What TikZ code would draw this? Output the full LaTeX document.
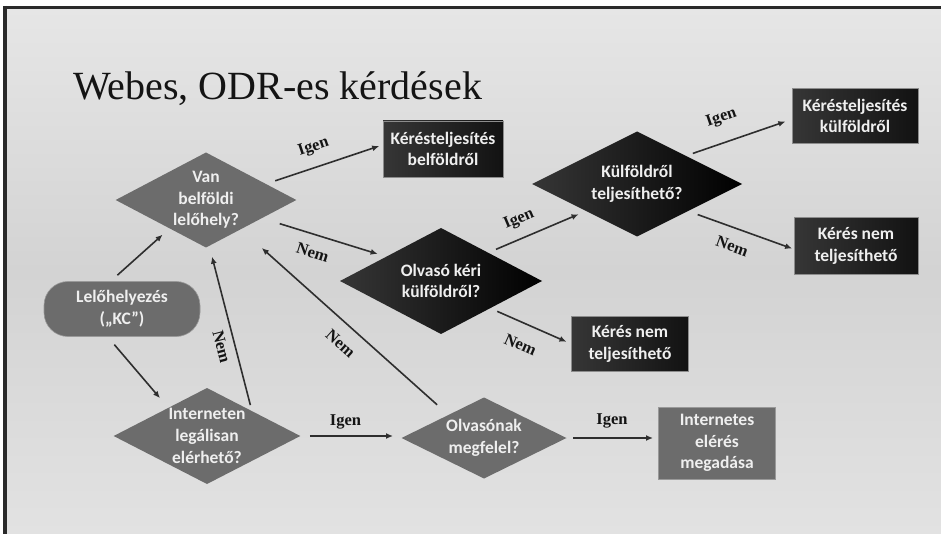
\documentclass[tikz,border=0pt]{standalone}
\usepackage{fontspec}
\setmainfont{Liberation Serif}
\newfontfamily\carlito{Carlito}
\usetikzlibrary{shapes.geometric,arrows.meta,calc}
\definecolor{midgray}{HTML}{6C6C6C}
\definecolor{darkA}{HTML}{363636}
\definecolor{darkB}{HTML}{121212}
\definecolor{arrowcol}{HTML}{2E2E2E}
\definecolor{framecol}{HTML}{2A2A2A}
\definecolor{bgtop}{HTML}{E6E6E6}
\definecolor{bgmid}{HTML}{D3D3D3}
\definecolor{bgbot}{HTML}{E2E2E2}
\definecolor{txtcol}{HTML}{EFEFEF}
\begin{document}
\begin{tikzpicture}[x=1pt,y=-1pt,
  txt/.style={text=txtcol, font=\carlito\bfseries\fontsize{17.5}{21.7}\selectfont, align=center},
  middia/.style={diamond, aspect=2, inner sep=0pt, outer sep=0pt, fill=midgray, txt},
  darkdia/.style={diamond, aspect=2, inner sep=0pt, outer sep=0pt, left color=darkA, right color=black, txt},
  darkbox/.style={rectangle, inner sep=0pt, outer sep=0pt, draw=black!45, line width=0.8pt, left color=darkA, right color=darkB, txt},
  midbox/.style={rectangle, inner sep=0pt, outer sep=0pt, draw=black!40, line width=0.8pt, fill=midgray, txt},
  startbox/.style={rectangle, rounded corners=24pt, inner sep=0pt, outer sep=0pt, draw=black!40, line width=0.6pt, fill=midgray, txt},
  arr/.style={draw=arrowcol, line width=1.6pt, -{Latex[length=7pt,width=6pt]}},
  lbl/.style={font=\bfseries\fontsize{16.5}{16.5}\selectfont, text=black!92, sloped, inner sep=0pt}
]
\useasboundingbox (0,0) rectangle (941,534);
\fill[white] (0,0) rectangle (941,534);
\shade[top color=bgtop, bottom color=bgbot, middle color=bgmid] (5,8) rectangle (941,534);
\draw[framecol, line width=3.5pt] (3,7.75) -- (941,7.75);
\draw[framecol, line width=4pt] (5,6) -- (5,534);

\node[anchor=base west, inner sep=0pt, font=\fontsize{40}{40}\selectfont, text=black!92] (title) at (73,100) {Webes, ODR-es kérdések};

\node[startbox, minimum width=156pt, minimum height=55pt] (lelo) at (122,309) {Lelőhelyezés\\(„KC”)};
\node[middia, minimum width=175pt, minimum height=95pt] (van) at (206,200) {Van\\belföldi\\lelőhely?};
\node[darkbox, minimum width=120pt, minimum height=56pt] (kb) at (443,149) {Kérésteljesítés\\belföldről};
\node[darkdia, minimum width=202pt, minimum height=106pt] (olv) at (441,281) {Olvasó kéri\\külföldről?};
\node[darkdia, minimum width=210pt, minimum height=105pt] (kul) at (637,184) {Külföldről\\teljesíthető?};
\node[darkbox, minimum width=126pt, minimum height=55pt] (kk) at (855,116) {Kérésteljesítés\\külföldről};
\node[darkbox, minimum width=124pt, minimum height=57pt] (knr) at (856,246) {Kérés nem\\teljesíthető};
\node[darkbox, minimum width=117pt, minimum height=55pt] (knm) at (630,344) {Kérés nem\\teljesíthető};
\node[middia, minimum width=181pt, minimum height=96pt] (leg) at (207,436) {Interneten\\legálisan\\elérhető?};
\node[middia, minimum width=165pt, minimum height=81pt] (meg) at (484,438) {Olvasónak\\megfelel?};
\node[midbox, minimum width=117pt, minimum height=72pt] (inet) at (717,443) {Internetes\\elérés\\megadása};

\draw[arr, shorten <=9.5pt, shorten >=9.4pt] (lelo.113.4) -- (van.218.3);
\draw[arr, shorten <=10.7pt, shorten >=12.8pt] (lelo.242.8) -- (leg.144.5);
\draw[arr, shorten <=9.9pt, shorten >=4pt] (van.15.8) -- node[lbl, pos=.46, above=11.5pt] {Igen} (kb.176.4);
\draw[arr, shorten <=18.7pt, shorten >=9.1pt] (van.-18.4) -- node[lbl, pos=.45, below=11.5pt] {Nem} (olv.156);
\draw[arr, shorten <=8.6pt, shorten >=8.2pt] (olv.31.4) -- node[lbl, pos=.39, above=10.5pt] {Igen} (kul.208.1);
\draw[arr, shorten <=7.5pt, shorten >=7pt] (kul.30.2) -- node[lbl, pos=.41, above=16pt] {Igen} (kk.183.3);
\draw[arr, shorten <=10.4pt, shorten >=2pt] (kul.-28.1) -- node[lbl, pos=.475, below=12pt] {Nem} (knr.183.6);
\draw[arr, shorten <=7.8pt, shorten >=5.5pt] (olv.-29) -- node[lbl, pos=.477, below=15pt] {Nem} (knm.west);
\draw[arr, shorten <=6.2pt, shorten >=11.2pt] (leg.29.7) -- node[lbl, pos=.41, below=7pt] {Nem} (van.-86);
\draw[arr, shorten <=15.3pt, shorten >=28.2pt] (meg.147.7) -- node[lbl, pos=.46, below=12.4pt] {Nem} (van.-40);
\draw[arr, shorten <=9.5pt, shorten >=8.5pt] (leg.east) -- node[lbl, pos=.447, above=6.5pt] {Igen} (leg.east -| meg.west);
\draw[arr, shorten <=6.5pt, shorten >=5.5pt] (meg.east) -- node[lbl, pos=.495, above=9.5pt] {Igen} (meg.east -| inet.west);
\end{tikzpicture}
\end{document}
